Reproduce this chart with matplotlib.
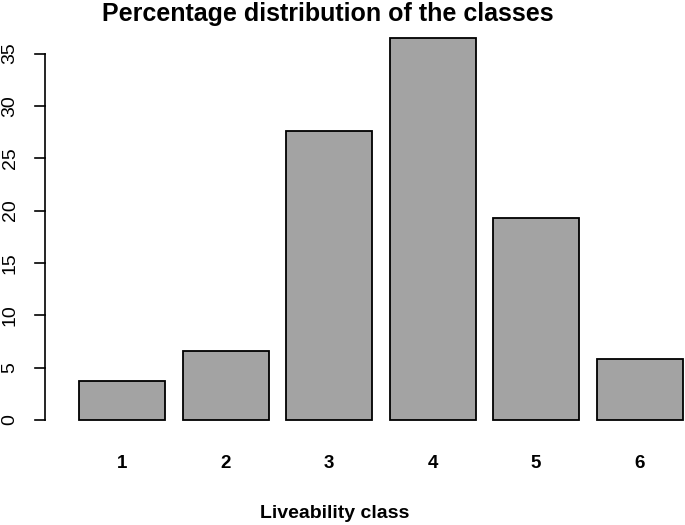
import matplotlib
matplotlib.use("Agg")
import matplotlib.pyplot as plt

# Datos
classes = ["1", "2", "3", "4", "5", "6"]
percent = [3.7, 6.6, 27.6, 36.5, 19.3, 5.8]
y_ticks = [0, 5, 10, 15, 20, 25, 30, 35]

plt.rcParams['font.family'] = ['Liberation Sans', 'DejaVu Sans']

W, H = 685, 525
fig = plt.figure(figsize=(W / 100, H / 100), dpi=100)
ax = fig.add_axes([0, 0, 1, 1])

# Escala en pixeles: x=0 en 61.75 px (86.25 px/unidad), y=0 en 420 px (10.47 px/unidad)
x0, sx = 61.75, 86.25
y0, sy = 420.0, 10.47
ax.set_xlim(-x0 / sx, (W - x0) / sx)
ax.set_ylim(-(H - y0) / sy, y0 / sy)

# Posiciones al estilo barplot de R: ancho 1, espacio 0.2
centers = [0.7 + 1.2 * i for i in range(len(classes))]
ax.bar(centers, percent, width=1.0, color='#a3a3a3', edgecolor='black', linewidth=1.3)

# Eje y estilo R
ax_x = (45 - x0) / sx
ax.plot([ax_x, ax_x], [y_ticks[0], y_ticks[-1]], color='black', lw=1.2)
tick_len = 10 / sx
for t in y_ticks:
    ax.plot([ax_x - tick_len, ax_x], [t, t], color='black', lw=1.2)
    ax.text((10 - x0) / sx, t, str(t), rotation=90, ha='center', va='center', fontsize=14)

# Etiquetas de categorias
for c, lab in zip(centers, classes):
    ax.text(c, -(463 - y0) / sy, lab, ha='center', va='center', fontsize=13.5, fontweight='bold')

ax.text((328 - x0) / sx, (y0 - 14) / sy, "Percentage distribution of the classes",
        ha='center', va='center', fontsize=18, fontweight='bold')
ax.text((335 - x0) / sx, -(514 - y0) / sy, "Liveability class",
        ha='center', va='center', fontsize=14, fontweight='bold')

ax.axis('off')
fig.savefig("out.png", dpi=100)
